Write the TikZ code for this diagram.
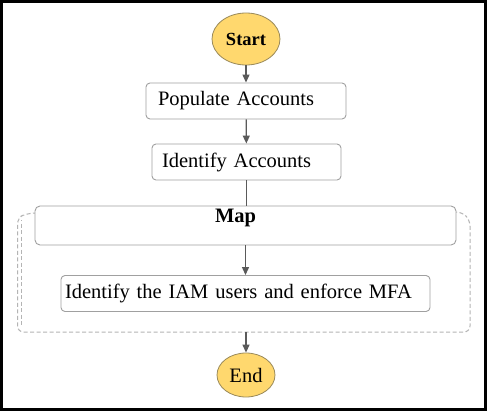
\documentclass[tikz,border=0pt]{standalone}
\usepackage{fontspec}
\setmainfont{Liberation Serif}
\usetikzlibrary{arrows.meta,shapes.geometric}
\definecolor{termfill}{HTML}{FFD86E}
\definecolor{termline}{HTML}{9A8A5A}
\definecolor{boxline}{HTML}{A0A0A0}
\definecolor{arrowcol}{HTML}{5A5A5A}
\definecolor{dashcol}{HTML}{B4B4B4}
\begin{document}
\begin{tikzpicture}[x=1pt,y=-1pt,
  term/.style={ellipse,draw=termline,fill=termfill,line width=0.8pt,inner sep=0pt},
  taskbox/.style={draw=boxline,rounded corners=4pt,line width=0.9pt,fill=white,
    minimum height=36pt,inner ysep=0pt,align=left,font=\fontsize{20.5}{24}\selectfont},
  flow/.style={draw=arrowcol,line width=1.2pt,-{Triangle[length=8pt,width=7pt]}},
  plain/.style={draw=arrowcol,line width=1.2pt},
  dashbox/.style={draw=dashcol,line width=1pt,dash pattern=on 4pt off 2.5pt,rounded corners=8pt}]
\useasboundingbox (0,0) rectangle (488,412);
\fill[white] (0,0) rectangle (488,412);
\draw[black,line width=2.5pt] (1.5,1.5) rectangle (485.5,409.5);

% map container (stacked dashed outline)
\draw[dashbox] (33,213) -- (27,213) [rounded corners=6pt]-- (17.5,218) -- (17.5,332) -- (470,332) -- (470,220) -- (462,212) -- (457,212);
\draw[dashcol,line width=1pt,dash pattern=on 4pt off 2.5pt,dash phase=3pt] (21.5,220) -- (21.5,326);

\node[term,minimum width=68pt,minimum height=52pt,font=\bfseries\fontsize{18.5}{22}\selectfont] (start) at (246,39) {Start};
\node[taskbox,inner xsep=12pt,text width=176pt] (pop) at (246,101) {Populate Accounts};
\node[taskbox,inner xsep=10pt,text width=169pt] (ida) at (246.5,162) {Identify Accounts};
\node[draw=boxline,rounded corners=5pt,line width=0.9pt,fill=white,minimum width=421pt,minimum height=39pt,inner sep=0pt] (map) at (245.5,225.5) {};
\node[font=\bfseries\fontsize{20.5}{24}\selectfont,anchor=north,inner sep=0pt] (maplabel) at (235.5,209) {Map};
\node[taskbox,inner xsep=4pt,text width=361pt] (iam) at (245.5,293.5) {Identify the IAM users and enforce MFA};
\coordinate (mapbot) at (246,332);
\node[term,minimum width=58pt,minimum height=44pt,font=\fontsize{20.5}{24}\selectfont] (end) at (246,375) {End};

\draw[flow] (start) -- (pop);
\draw[flow] (pop) -- (ida);
\draw[plain] (ida.south) -- (ida.south |- map.north);
\draw[flow] (map.south -| iam.north) -- (iam.north);
\draw[flow] (mapbot) -- (end);
\end{tikzpicture}
\end{document}
